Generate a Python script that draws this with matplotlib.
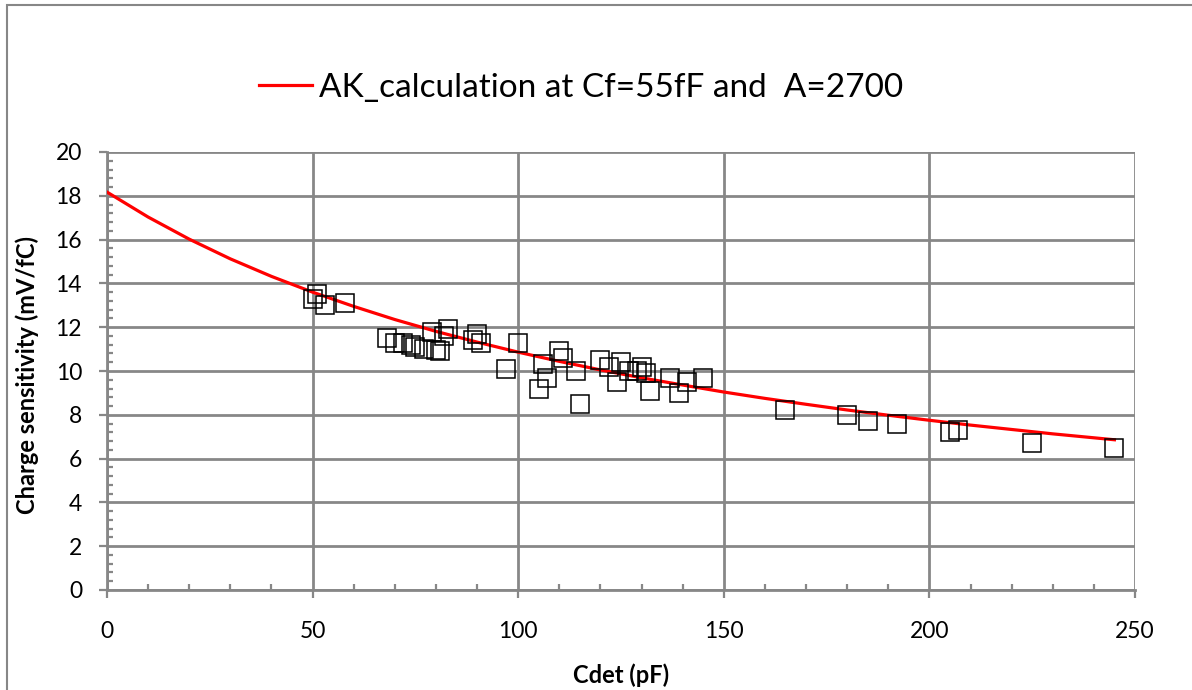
import matplotlib
matplotlib.use("Agg")
import matplotlib.pyplot as plt
from matplotlib.ticker import MultipleLocator
from matplotlib.patches import Rectangle

# Measured data (Cdet in pF, charge sensitivity in mV/fC)
cdet_meas = [50, 51, 53, 58, 68, 70, 72, 74, 75, 77, 79, 80, 81, 82, 83,
             89, 90, 91, 97, 100, 105, 106, 107, 110, 111, 114, 115, 120,
             122, 124, 125, 127, 129, 130, 131, 132, 137, 139, 141, 145,
             165, 180, 185, 192, 205, 207, 225, 245]
sens_meas = [13.3, 13.5, 13.0, 13.1, 11.5, 11.3, 11.3, 11.2, 11.1, 11.0, 11.8,
             10.95, 10.9, 11.6, 11.9, 11.4, 11.7, 11.3, 10.1, 11.3, 9.2, 10.3,
             9.7, 10.9, 10.6, 10.0, 8.5, 10.5, 10.2, 9.5, 10.4, 10.0, 10.0,
             10.2, 9.9, 9.1, 9.7, 9.0, 9.5, 9.7, 8.2, 8.0, 7.7, 7.6, 7.2, 7.3,
             6.7, 6.5]

# Calculation curve
cdet_calc = [0, 10, 20, 30, 40, 50, 60, 70, 80, 90, 100, 110, 120, 130, 140,
             150, 160, 170, 180, 190, 200, 210, 220, 230, 240, 245]
sens_calc = [18.17, 17.03, 16.02, 15.12, 14.32, 13.60, 12.95, 12.35, 11.81,
             11.32, 10.86, 10.44, 10.05, 9.69, 9.36, 9.04, 8.75, 8.48, 8.22,
             7.98, 7.75, 7.53, 7.33, 7.13, 6.95, 6.86]

legend_label = "AK_calculation at Cf=55fF and  A=2700"
x_label = "Cdet (pF)"
y_label = "Charge sensitivity (mV/fC)"

plt.rcParams['font.family'] = ['Lato', 'DejaVu Sans']

W, H = 1192, 690
fig = plt.figure(figsize=(W / 100, H / 100), dpi=100)
ax = fig.add_axes([107 / W, 1 - 590 / H, (1135 - 107) / W, (590 - 152) / H])

gray = '#878787'

# outer chart border
fig.patches.append(Rectangle((6.5 / W, -0.1), 1.2, 1 - 5.5 / H + 0.1,
                             transform=fig.transFigure, fill=False,
                             edgecolor=gray, linewidth=1.5, zorder=0))

ax.grid(True, which='major', color=gray, linewidth=2.0, zorder=0)
ax.set_axisbelow(True)

line, = ax.plot(cdet_calc, sens_calc, color='#FF0000', linewidth=2.3,
                zorder=3, label=legend_label)
ax.plot(cdet_meas, sens_meas, linestyle='none', marker='s', markersize=13.5,
        markerfacecolor='none', markeredgecolor='black', markeredgewidth=1.1,
        zorder=4)

ax.set_xlim(0, 250)
ax.set_ylim(0, 20)
ax.xaxis.set_major_locator(MultipleLocator(50))
ax.xaxis.set_minor_locator(MultipleLocator(10))
ax.yaxis.set_major_locator(MultipleLocator(2))
ax.yaxis.set_minor_locator(MultipleLocator(0.4))

for side in ['top', 'right']:
    ax.spines[side].set_visible(False)
for side in ['left', 'bottom']:
    ax.spines[side].set_color(gray)
    ax.spines[side].set_linewidth(2.0)

ax.tick_params(which='major', direction='out', length=6, width=1.6,
               color=gray, labelsize=16.5, labelcolor='black')
ax.tick_params(axis='x', which='major', pad=16)
ax.tick_params(axis='y', which='major', pad=12)
ax.tick_params(which='minor', direction='in', length=4.5, width=1.6,
               color=gray)

ax.set_xlabel(x_label, fontsize=17, fontweight='bold')
ax.set_ylabel(y_label, fontsize=17, fontweight='bold')
ax.xaxis.set_label_coords(0.5, (590 - 663) / 438)
ax.yaxis.set_label_coords((39 - 107) / 1028, 0.49)

fig.legend(handles=[line], labels=[legend_label], loc='center',
           bbox_to_anchor=(581 / W, 1 - 88 / H), frameon=False,
           fontsize=24, handlelength=1.6, handletextpad=0.2)

fig.savefig('out.png', dpi=100, facecolor='white')
